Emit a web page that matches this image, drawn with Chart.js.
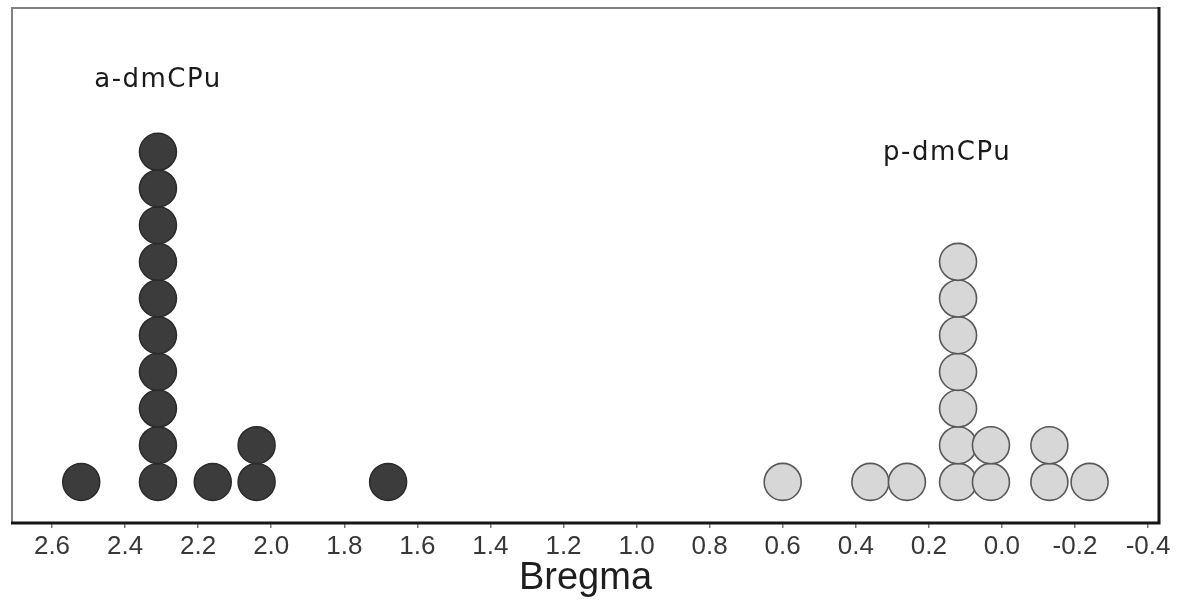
<!DOCTYPE html>
<html>
<head>
<meta charset="utf-8">
<script src="https://cdn.jsdelivr.net/npm/chart.js@4/dist/chart.umd.min.js"></script>
<style>
  html, body { margin: 0; padding: 0; background: #ffffff; }
  #wrap { width: 1186px; height: 607px; position: relative; }
</style>
</head>
<body>
<div id="wrap"><canvas id="c" width="1186" height="607"></canvas></div>
<script>
// ---- data ----
const aPositions = [2.52, 2.31, 2.16, 2.04, 1.68];   // Bregma bins, a-dmCPu
const aCounts    = [1, 10, 1, 2, 1];                  // dots stacked per bin
const pPositions = [0.60, 0.36, 0.26, 0.12, 0.03, -0.13, -0.24]; // p-dmCPu
const pCounts    = [1, 1, 1, 7, 2, 2, 1];
const xTicks = [2.6, 2.4, 2.2, 2.0, 1.8, 1.6, 1.4, 1.2, 1.0, 0.8, 0.6, 0.4, 0.2, 0.0, -0.2, -0.4];
const groupLabels = [
  { text: 'a-dmCPu', x: 2.31, y: 11.95 },
  { text: 'p-dmCPu', x: 0.15, y: 9.95 }
];
const axisTitle = 'Bregma';

function stackPoints(pos, counts) {
  const pts = [];
  pos.forEach((x, i) => {
    for (let k = 1; k <= counts[i]; k++) pts.push({ x: x, y: k });
  });
  return pts;
}

const labelPlugin = {
  id: 'labels',
  afterDatasetsDraw(chart) {
    const { ctx, scales } = chart;
    ctx.save();
    ctx.fillStyle = '#1a1a1a';
    ctx.font = '26px "DejaVu Sans"';
    try { ctx.letterSpacing = '1.5px'; } catch (e) {}
    ctx.textAlign = 'center';
    ctx.textBaseline = 'middle';
    groupLabels.forEach(l => {
      ctx.fillText(l.text, scales.x.getPixelForValue(l.x), scales.y.getPixelForValue(l.y));
    });
    ctx.restore();
  },
  afterDraw(chart) {
    const { ctx, chartArea: a } = chart;
    ctx.save();
    // frame: left/top gray, right/bottom black
    ctx.lineWidth = 2;
    ctx.strokeStyle = '#808080';
    ctx.beginPath();
    ctx.moveTo(a.left, a.bottom); ctx.lineTo(a.left, a.top); ctx.lineTo(a.right, a.top);
    ctx.stroke();
    ctx.lineWidth = 3;
    ctx.strokeStyle = '#151515';
    ctx.beginPath();
    ctx.moveTo(a.right, a.top - 1); ctx.lineTo(a.right, a.bottom); ctx.lineTo(a.left - 1, a.bottom);
    ctx.stroke();
    // axis title
    ctx.fillStyle = '#1e1e1e';
    ctx.font = '38px "Liberation Sans", Arial, sans-serif';
    ctx.textAlign = 'center';
    ctx.textBaseline = 'middle';
    ctx.fillText(axisTitle, (a.left + a.right) / 2, 579);
    ctx.restore();
  }
};

new Chart(document.getElementById('c'), {
  type: 'scatter',
  data: {
    datasets: [
      {
        label: 'a-dmCPu',
        data: stackPoints(aPositions, aCounts),
        backgroundColor: '#3c3c3c',
        borderColor: '#2a2a2a',
        borderWidth: 1.5,
        pointRadius: 18.5,
        pointHoverRadius: 18.5
      },
      {
        label: 'p-dmCPu',
        data: stackPoints(pPositions, pCounts),
        backgroundColor: '#d7d7d7',
        borderColor: '#585858',
        borderWidth: 1.6,
        pointRadius: 18.5,
        pointHoverRadius: 18.5
      }
    ]
  },
  options: {
    responsive: false,
    animation: false,
    layout: { autoPadding: false, padding: { left: 12, top: 8, right: 27, bottom: 0 } },
    plugins: { legend: { display: false }, tooltip: { enabled: false } },
    scales: {
      x: {
        type: 'linear',
        reverse: true,
        min: -0.43,
        max: 2.7095,
        afterBuildTicks(scale) { scale.ticks = xTicks.map(v => ({ value: v })); },
        afterFit(scale) { scale.height = 84; },
        border: { display: false },
        grid: { drawOnChartArea: false, drawTicks: true, tickLength: 5, color: '#777777', lineWidth: 1.5 },
        ticks: {
          padding: 3,
          color: '#383838',
          font: { size: 26, family: '"Liberation Sans", Arial, sans-serif' },
          maxRotation: 0,
          autoSkip: false,
          callback(v) { return Number(v).toFixed(1); }
        }
      },
      y: {
        display: false,
        min: -0.12,
        max: 13.92
      }
    }
  },
  plugins: [labelPlugin]
});
</script>
</body>
</html>
